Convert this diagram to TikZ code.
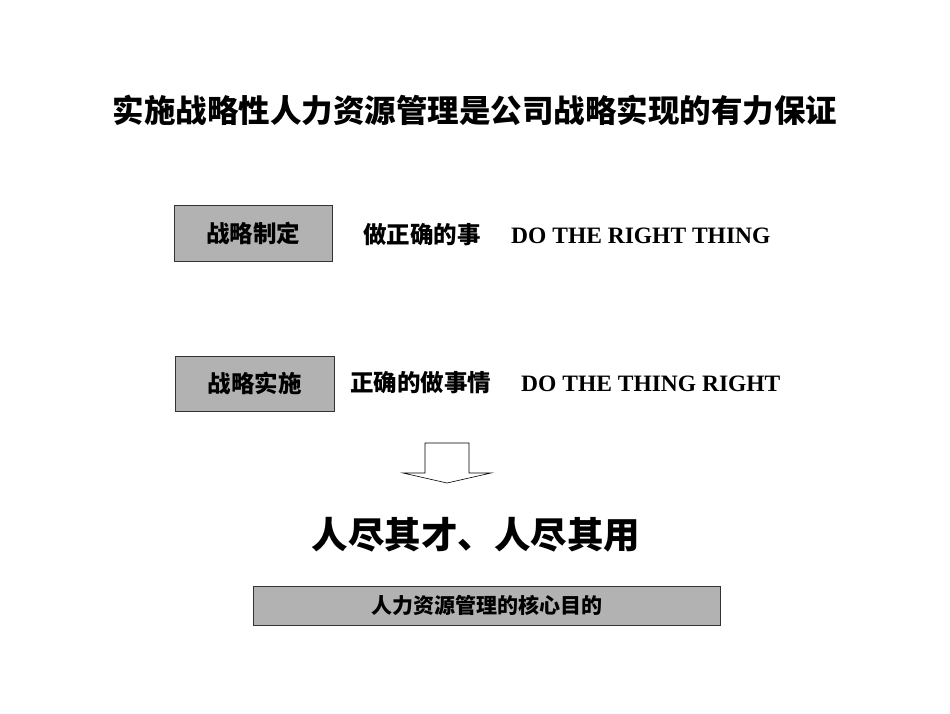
\documentclass[tikz,border=0pt]{standalone}
\usepackage{fontspec}
\setmainfont{Liberation Serif}
\newfontfamily\cjk{Noto Sans CJK SC}
\begin{document}
\begin{tikzpicture}[x=1pt,y=-1pt,
  graybox/.style={draw=black!80,line width=0.8pt,fill=black!30,inner sep=0pt},
  cjktext/.style={font=\cjk\bfseries,inner sep=0pt},
  entext/.style={font=\bfseries\fontsize{23.5}{27}\selectfont,inner sep=0pt}]
\useasboundingbox (0,0) rectangle (950,713);
\node[cjktext,font=\cjk\bfseries\fontsize{31.5}{36}\selectfont] (title) at (475,110) {实施战略性人力资源管理是公司战略实现的有力保证};
\node[graybox,minimum width=158pt,minimum height=56pt] (b1) at (253,233) {};
\node[cjktext,font=\cjk\bfseries\fontsize{23.5}{27}\selectfont] (b1t) at (b1) {战略制定};
\node[cjktext,anchor=west,font=\cjk\bfseries\fontsize{23.5}{27}\selectfont] (l1c) at (363,235) {做正确的事};
\node[entext,anchor=west] (l1e) at (511,236) {DO THE RIGHT THING};
\node[graybox,minimum width=159pt,minimum height=55pt] (b2) at (254.5,383.5) {};
\node[cjktext,font=\cjk\bfseries\fontsize{23.5}{27}\selectfont] (b2t) at (b2) {战略实施};
\node[cjktext,anchor=west,font=\cjk\bfseries\fontsize{23.5}{27}\selectfont] (l2c) at (350,383) {正确的做事情};
\node[entext,anchor=west] (l2e) at (521,384) {DO THE THING RIGHT};
\coordinate (arr) at (447,443);
\draw[line width=0.6pt,fill=white] (425,443) -- (469,443) -- (469,473) -- (491,473) -- (447,483) -- (403,473) -- (425,473) -- cycle;
\node[cjktext,font=\cjk\bfseries\fontsize{36.5}{40}\selectfont] (big) at (476,535) {人尽其才、人尽其用};
\node[graybox,minimum width=467pt,minimum height=39pt] (b3) at (486.5,605.5) {};
\node[cjktext,font=\cjk\bfseries\fontsize{21}{24}\selectfont] (b3t) at (b3) {人力资源管理的核心目的};
\end{tikzpicture}
\end{document}
